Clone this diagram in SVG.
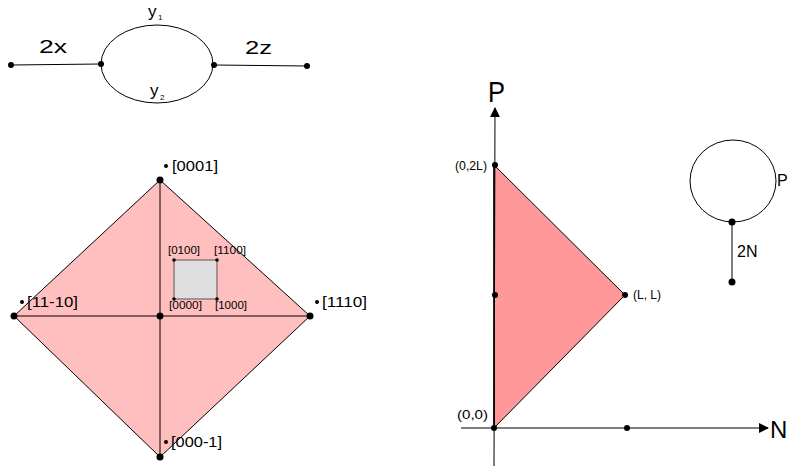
<svg xmlns="http://www.w3.org/2000/svg" width="790" height="469" viewBox="0 0 790 469">
<defs>
<style>
text{font-family:"Liberation Sans",Arial,sans-serif;fill:#000}
.ln{stroke:#000;stroke-width:1.2;fill:none}
.thin{stroke:#000;stroke-width:1;fill:none}
.dot{fill:#000}
.lbl{font-size:14px}
.sq{font-size:10px}
</style>
<marker id="arr" viewBox="0 0 10 10" refX="9" refY="5" markerWidth="10" markerHeight="10" markerUnits="userSpaceOnUse" orient="auto"><path d="M0,0 L10,5 L0,10 Z" fill="#000"/></marker>
</defs>
<rect width="790" height="469" fill="#fff"/>

<!-- Top graph -->
<g id="graph1">
<g id="connectors1">
<line class="thin" x1="11" y1="65" x2="101" y2="64"/>
<line class="thin" x1="214" y1="65" x2="307" y2="66"/>
<ellipse class="thin" cx="157" cy="64" rx="56" ry="39"/>
</g>
<g id="n-left"><circle class="dot" cx="11" cy="65" r="3"/></g>
<g id="n-eleft"><circle class="dot" cx="101" cy="64" r="3"/></g>
<g id="n-eright"><circle class="dot" cx="214" cy="65" r="3"/></g>
<g id="n-right"><circle class="dot" cx="307" cy="66" r="3"/></g>
<text x="39" y="53" font-size="18" textLength="28" lengthAdjust="spacingAndGlyphs">2x</text>
<text x="245" y="54" font-size="18" textLength="27" lengthAdjust="spacingAndGlyphs">2z</text>
<text x="148" y="17" font-size="17">y</text><text x="158" y="20" font-size="8">1</text>
<text x="150" y="96" font-size="17">y</text><text x="160" y="100" font-size="8">2</text>
</g>

<!-- Diamond -->
<g id="diamond">
<polygon points="160,180 310,316 160,457 14,316" fill="#ffbfbf" stroke="#000" stroke-width="1"/>
<g id="connectors2">
<line class="thin" x1="160" y1="180" x2="160" y2="457"/>
<line class="thin" x1="14" y1="316" x2="310" y2="316"/>
</g>
<g id="n-top"><circle class="dot" cx="160" cy="180" r="3.5"/></g>
<g id="n-l"><circle class="dot" cx="14" cy="316" r="3.5"/></g>
<g id="n-r"><circle class="dot" cx="310" cy="316" r="3.5"/></g>
<g id="n-b"><circle class="dot" cx="160" cy="457" r="3.5"/></g>
<g id="n-c"><circle class="dot" cx="160" cy="316" r="3.5"/></g>
<g id="lbl-0001"><circle class="dot" cx="166" cy="166" r="2"/><text class="lbl" x="172" y="171" textLength="46" lengthAdjust="spacingAndGlyphs">[0001]</text></g>
<g id="lbl-11-10"><circle class="dot" cx="22" cy="302" r="2"/><text class="lbl" x="27" y="307" textLength="51" lengthAdjust="spacingAndGlyphs">[11-10]</text></g>
<g id="lbl-1110"><circle class="dot" cx="317" cy="302" r="2"/><text class="lbl" x="322" y="307" textLength="45" lengthAdjust="spacingAndGlyphs">[1110]</text></g>
<g id="lbl-000-1"><circle class="dot" cx="166" cy="442" r="2"/><text class="lbl" x="171" y="447" textLength="51" lengthAdjust="spacingAndGlyphs">[000-1]</text></g>
<g id="square">
<rect x="174" y="260" width="43" height="39" fill="#dedede" stroke="#555" stroke-width="1"/>
<circle class="dot" cx="174" cy="260" r="1.8"/>
<circle class="dot" cx="217" cy="260" r="1.8"/>
<circle class="dot" cx="174" cy="299" r="1.8"/>
<circle class="dot" cx="217" cy="299" r="1.8"/>
<text class="sq" x="168" y="254" textLength="32" lengthAdjust="spacingAndGlyphs">[0100]</text>
<text class="sq" x="214" y="254" textLength="32" lengthAdjust="spacingAndGlyphs">[1100]</text>
<text class="sq" x="169" y="309" textLength="33" lengthAdjust="spacingAndGlyphs">[0000]</text>
<text class="sq" x="215" y="309" textLength="32" lengthAdjust="spacingAndGlyphs">[1000]</text>
</g>
</g>

<!-- Right plot -->
<g id="plot">
<polygon points="494,165 625,295 494,428" fill="#ff9999" stroke="#000" stroke-width="1"/>
<g id="axes">
<line class="thin" x1="494" y1="466" x2="495" y2="108" marker-end="url(#arr)"/>
<line class="thin" x1="461" y1="428" x2="768" y2="428" marker-end="url(#arr)"/>
<line x1="494" y1="165" x2="494" y2="428" stroke="#000" stroke-width="1.4"/>
</g>
<g id="p-02L"><circle class="dot" cx="495" cy="165" r="3"/><text x="455" y="170" font-size="12" textLength="32" lengthAdjust="spacingAndGlyphs">(0,2L)</text></g>
<g id="p-0L"><circle class="dot" cx="495" cy="295" r="3"/></g>
<g id="p-LL"><circle class="dot" cx="625" cy="295" r="3"/><text x="633" y="299" font-size="12" textLength="28" lengthAdjust="spacingAndGlyphs">(L, L)</text></g>
<g id="p-00"><circle class="dot" cx="494" cy="428" r="3"/><text x="457" y="419" font-size="13" textLength="31" lengthAdjust="spacingAndGlyphs">(0,0)</text></g>
<g id="p-L0"><circle class="dot" cx="627" cy="428" r="3"/></g>
<text x="488" y="102" font-size="29" textLength="17" lengthAdjust="spacingAndGlyphs">P</text>
<text x="770" y="438" font-size="24">N</text>
</g>

<!-- Loop -->
<g id="loop">
<ellipse class="thin" cx="733" cy="181" rx="43" ry="41"/>
<line class="thin" x1="732" y1="222" x2="732" y2="282"/>
<g id="loop-top"><circle class="dot" cx="732" cy="222" r="3.5"/></g>
<g id="loop-bottom"><circle class="dot" cx="732" cy="282" r="3.5"/></g>
<text x="777" y="186" font-size="16">P</text>
<text x="737" y="257" font-size="16">2N</text>
</g>
</svg>
